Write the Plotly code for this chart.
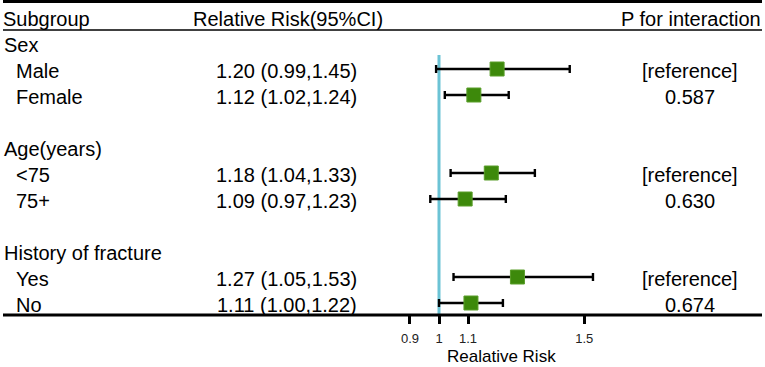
import plotly.graph_objects as go

# ---- data ----
groups = ["Sex", "Age(years)", "History of fracture"]
labels = ["Male", "Female", "<75", "75+", "Yes", "No"]
rr = [1.20, 1.12, 1.18, 1.09, 1.27, 1.11]
lo = [0.99, 1.02, 1.04, 0.97, 1.05, 1.00]
hi = [1.45, 1.24, 1.33, 1.23, 1.53, 1.22]
p_int = ["[reference]", "0.587", "[reference]", "0.630", "[reference]", "0.674"]
tick_vals = [0.9, 1, 1.1, 1.5]
tick_text = ["0.9", "1", "1.1", "1.5"]
headers = ["Subgroup", "Relative Risk(95%CI)", "P for interaction"]
x_title = "Realative Risk"

# ---- layout geometry ----
W, H = 765, 367
PLOT_H = 315          # plot area height (axis line at bottom)
ROW0, ROWH = 17, 26   # pixel centre of row 0 and row pitch
X1_PX, PX_PER_UNIT = 439, 290.5

def paper_x(px):
    return px / W

xr = [1 - X1_PX / PX_PER_UNIT, 1 + (W - X1_PX) / PX_PER_UNIT]
yr = [(PLOT_H - ROW0) / ROWH, -ROW0 / ROWH]

group_rows = [1 + 4 * k for k in range(len(groups))]
item_rows = []
for g in group_rows:
    item_rows += [g + 1, g + 2]

FONT = "Liberation Sans, Arial, sans-serif"
FS = 20

fig = go.Figure()
fig.add_trace(go.Scatter(
    x=rr, y=item_rows, mode="markers",
    marker=dict(symbol="square", size=14, color="#3d890b",
                line=dict(color="#5a9e2a", width=1)),
    error_x=dict(type="data", symmetric=False,
                 array=[h - r for h, r in zip(hi, rr)],
                 arrayminus=[r - l for r, l in zip(rr, lo)],
                 color="black", thickness=2.4, width=4),
    hoverinfo="skip", showlegend=False,
))

ann = []
TXT_DY = 0.06
# header row
ann.append(dict(x=paper_x(1), y=0 + TXT_DY, text=headers[0], xanchor="left"))
ann.append(dict(x=paper_x(190.5), y=0 + TXT_DY, text=headers[1], xanchor="left"))
ann.append(dict(x=paper_x(763), y=0 + TXT_DY, text=headers[2], xanchor="right"))
for g, row in zip(groups, group_rows):
    ann.append(dict(x=paper_x(1.5), y=row + TXT_DY, text=g, xanchor="left"))
for i, row in enumerate(item_rows):
    ann.append(dict(x=paper_x(14), y=row + TXT_DY, text=labels[i], xanchor="left"))
    ann.append(dict(x=paper_x(359), y=row + TXT_DY,
                    text=f"{rr[i]:.2f} ({lo[i]:.2f},{hi[i]:.2f})", xanchor="right"))
    ann.append(dict(x=paper_x(690), y=row + TXT_DY, text=p_int[i], xanchor="center"))
annotations = [dict(a, xref="paper", yref="y", yanchor="middle", showarrow=False,
                    font=dict(family=FONT, size=FS, color="black")) for a in ann]
annotations.append(dict(x=paper_x(501.5), y=0, xref="paper", yref="paper",
                        text=x_title, xanchor="center", yanchor="middle", showarrow=False,
                        yshift=-41, font=dict(family=FONT, size=17, color="black")))

shapes = [
    # reference line at RR = 1
    dict(type="line", xref="x", yref="y", x0=1, x1=1, y0=1.46, y1=yr[0],
         line=dict(color="#6cc3d5", width=3), layer="below"),
    # top thick rule
    dict(type="line", xref="paper", yref="y", x0=paper_x(3), x1=paper_x(762),
         y0=-0.6, y1=-0.6, line=dict(color="black", width=3.2)),
    # header underline
    dict(type="line", xref="paper", yref="y", x0=paper_x(3), x1=paper_x(762),
         y0=0.5, y1=0.5, line=dict(color="black", width=1.5)),
    # bottom rule / axis line
    dict(type="line", xref="paper", yref="paper", x0=paper_x(3), x1=paper_x(762),
         y0=0, y1=0, line=dict(color="black", width=3.2)),
]

fig.update_layout(
    width=W, height=H, autosize=False,
    margin=dict(l=0, r=0, t=0, b=H - PLOT_H, pad=0),
    paper_bgcolor="white", plot_bgcolor="white",
    annotations=annotations, shapes=shapes,
    xaxis=dict(range=xr, tickvals=tick_vals, ticktext=tick_text, ticks="outside",
               ticklen=8, tickwidth=2.5, tickcolor="black", showline=False,
               showgrid=False, zeroline=False, fixedrange=True,
               ticklabelstandoff=3,
               tickfont=dict(family=FONT, size=13, color="#222")),
    yaxis=dict(range=yr, visible=False, showgrid=False, zeroline=False, fixedrange=True),
)

fig.write_html("out.html", config={"displayModeBar": False},
               post_script="document.body.style.margin='0';document.body.style.padding='0';")
